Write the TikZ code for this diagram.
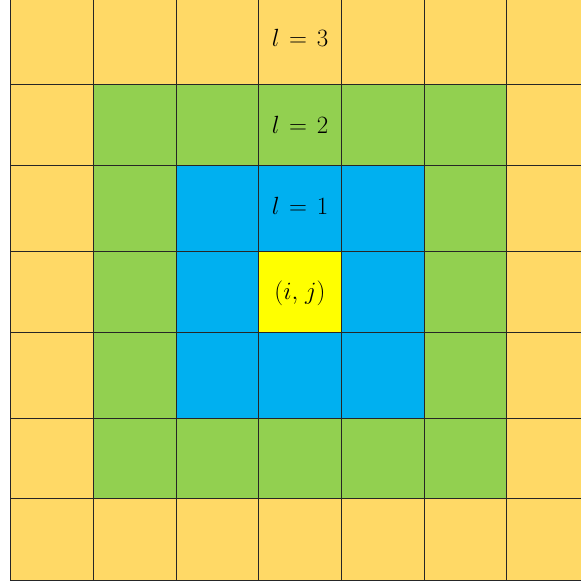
\documentclass[tikz,border=0pt]{standalone}
\definecolor{cgold}{HTML}{FFD966}
\definecolor{cgreen}{HTML}{92D050}
\definecolor{cblue}{HTML}{00B0F0}
\definecolor{cyel}{HTML}{FFFF00}
\tikzset{gridline/.style={draw=black!85, line width=0.8pt},
  lbl/.style={font=\fontsize{24}{28}\selectfont, inner sep=0pt}}
\begin{document}
\begin{tikzpicture}[x=1pt,y=-1pt]
\useasboundingbox (0,0) rectangle (581,585);
% fills
\fill[cgold] (10,0) rectangle (581,580);
\fill[cgreen] (93,84) rectangle (506,498);
\fill[cblue] (176,165) rectangle (424,418);
\fill[cyel] (258,251) rectangle (341,332);
% grid lines
\foreach \x in {10,93,176,258,341,424,506} \draw[gridline] (\x,0) -- (\x,580);
\foreach \y in {84,165,251,332,418,498,580} \draw[gridline] (10,\y) -- (581,\y);
% labels
\node[lbl] (l3) at (300,38) {$l\mkern2mu=\mkern2mu3$};
\node[lbl] (l2) at (300,125) {$l\mkern2mu=\mkern2mu2$};
\node[lbl] (l1) at (300,206) {$l\mkern2mu=\mkern2mu1$};
\node[lbl] (ij) at (300,293) {$(i,\mkern2mu j)$};
\end{tikzpicture}
\end{document}
